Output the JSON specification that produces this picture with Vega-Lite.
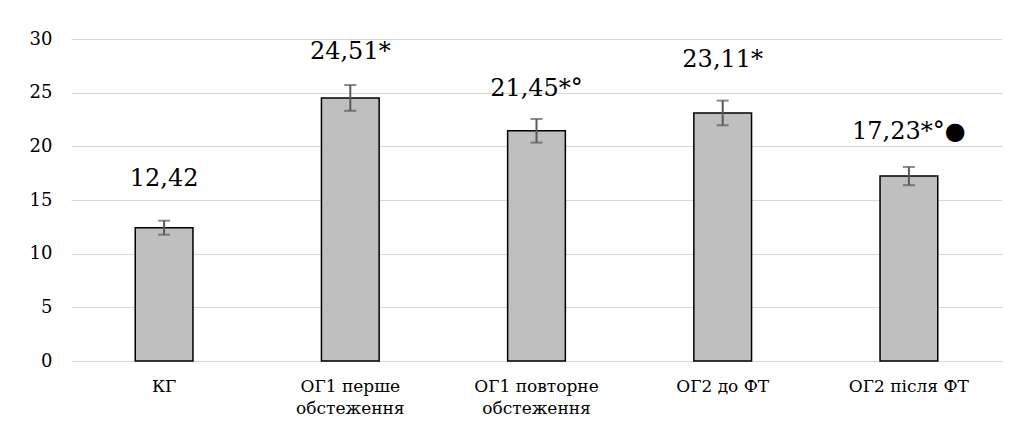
{
  "$schema": "https://vega.github.io/schema/vega-lite/v6.json",
  "width": 931,
  "height": 322,
  "autosize": {"type": "none"},
  "padding": {"left": 71, "top": 39, "right": 20, "bottom": 82},
  "background": "white",
  "config": {
    "view": {"stroke": null},
    "font": "DejaVu Serif"
  },
  "data": {
    "values": [
      {"group": "КГ", "value": 12.42, "err": 0.65, "label": "12,42", "label_at": 17.0},
      {"group": "ОГ1 перше обстеження", "value": 24.51, "err": 1.2, "label": "24,51*", "label_at": 28.8},
      {"group": "ОГ1 повторне обстеження", "value": 21.45, "err": 1.1, "label": "21,45*°", "label_at": 25.3},
      {"group": "ОГ2 до ФТ", "value": 23.11, "err": 1.15, "label": "23,11*", "label_at": 28.05},
      {"group": "ОГ2 після ФТ", "value": 17.23, "err": 0.85, "label": "17,23*°●", "label_at": 21.3}
    ]
  },
  "transform": [
    {"calculate": "datum.value - datum.err", "as": "lo"},
    {"calculate": "datum.value + datum.err", "as": "hi"}
  ],
  "encoding": {
    "x": {
      "field": "group",
      "type": "nominal",
      "sort": null,
      "scale": {"paddingInner": 0.69, "paddingOuter": 0.345},
      "axis": {
        "title": null,
        "labelAngle": 0,
        "labelFontSize": 17,
        "labelColor": "#000000",
        "labelFont": "DejaVu Serif",
        "labelExpr": "datum.value == 'ОГ1 перше обстеження' ? ['ОГ1 перше', 'обстеження'] : datum.value == 'ОГ1 повторне обстеження' ? ['ОГ1 повторне', 'обстеження'] : datum.value",
        "labelLineHeight": 22,
        "labelPadding": 17,
        "ticks": false,
        "domain": false,
        "grid": false
      }
    }
  },
  "layer": [
    {
      "mark": {"type": "bar", "fill": "#BFBFBF", "stroke": "#000000", "strokeWidth": 1.5},
      "encoding": {
        "y": {
          "field": "value",
          "type": "quantitative",
          "scale": {"domain": [0, 30]},
          "axis": {
            "title": null,
            "values": [0, 5, 10, 15, 20, 25, 30],
            "labelFontSize": 18,
            "labelColor": "#000000",
            "labelFont": "DejaVu Serif",
            "labelPadding": 19,
            "ticks": false,
            "domain": false,
            "grid": true,
            "gridColor": "#D9D9D9",
            "gridWidth": 1.2
          }
        }
      }
    },
    {
      "mark": {"type": "rule", "color": "#595959", "strokeWidth": 2},
      "encoding": {
        "y": {"field": "lo", "type": "quantitative"},
        "y2": {"field": "hi"}
      }
    },
    {
      "mark": {"type": "tick", "color": "#595959", "thickness": 2, "size": 12},
      "encoding": {"y": {"field": "lo", "type": "quantitative"}}
    },
    {
      "mark": {"type": "tick", "color": "#595959", "thickness": 2, "size": 12},
      "encoding": {"y": {"field": "hi", "type": "quantitative"}}
    },
    {
      "mark": {"type": "text", "fontSize": 24, "font": "DejaVu Serif", "color": "#000000", "baseline": "middle", "align": "center"},
      "encoding": {
        "y": {"field": "label_at", "type": "quantitative"},
        "text": {"field": "label"}
      }
    }
  ]
}
